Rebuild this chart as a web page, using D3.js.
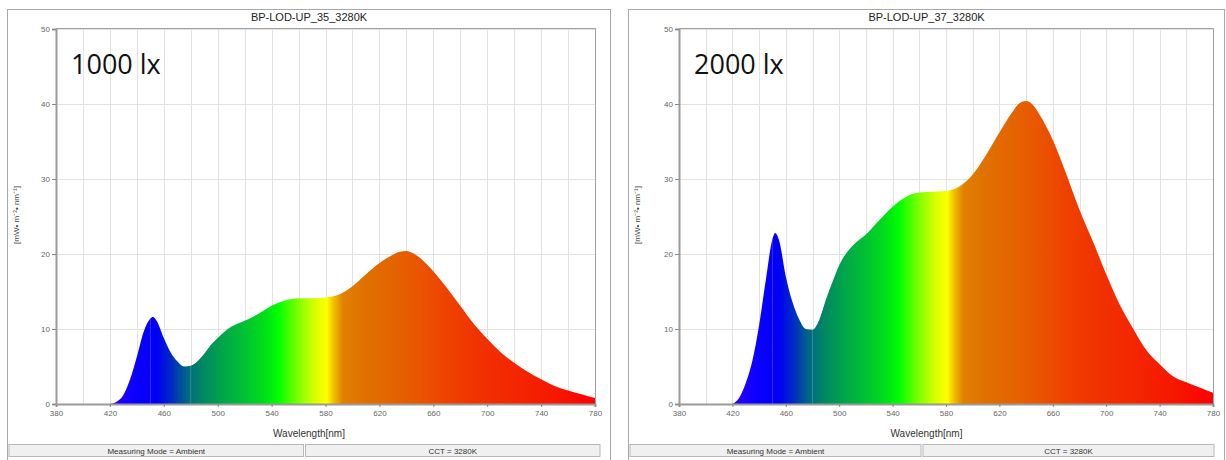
<!DOCTYPE html>
<html>
<head>
<meta charset="utf-8">
<script src="https://cdn.jsdelivr.net/npm/d3@7"></script>
<style>
  body { margin: 0; background: #fff; }
  svg { display: block; font-family: "Liberation Sans", Arial, sans-serif; }
</style>
</head>
<body>
<div id="viz"></div>
<script>
// wavelengths [nm] shared by both measurements
var wavelengths = [420,425,430,435,440,445,450,452,455,460,465,470,475,480,485,490,495,500,
                   510,520,530,540,550,560,570,580,590,600,610,620,630,635,640,645,650,660,670,680,
                   690,700,710,720,730,740,750,760,770,780];
// spectral irradiance [mW m-2 nm-1]
var lux1000 = [0,0.3,1.2,3.3,6.3,9.6,11.4,11.6,11.0,8.8,6.9,5.7,5.0,5.1,5.7,6.7,7.9,8.8,
               10.3,11.1,12.0,13.1,13.8,14.1,14.1,14.2,14.6,15.7,17.3,18.8,19.9,20.3,20.4,20.1,19.5,17.7,15.5,13.1,
               10.7,8.7,6.9,5.5,4.3,3.3,2.4,1.8,1.3,0.8];
var lux2000 = [0,0.8,2.8,5.8,10.5,16.5,22.0,22.8,21.8,17.0,13.6,11.3,10.0,9.9,11.2,13.9,16.3,18.5,
               21.1,22.6,24.5,26.3,27.6,28.2,28.3,28.4,29.0,30.6,33.2,36.2,39.0,40.1,40.4,39.9,38.6,35.2,30.7,25.9,
               21.7,17.3,13.3,10.1,7.2,5.3,3.7,2.9,2.2,1.5];

var titles = ['BP-LOD-UP_35_3280K', 'BP-LOD-UP_37_3280K'];
var luxLabels = ['1000 lx', '2000 lx'];
var statusLeft = 'Measuring Mode = Ambient';
var statusRight = 'CCT = 3280K';
var xTickValues = [380,420,460,500,540,580,620,660,700,740,780];
var xGridValues = [400,420,440,460,480,500,520,540,560,580,600,620,640,660,680,700,720,740,760];
var yTickValues = [0,10,20,30,40,50];

// colour along the wavelength axis
var spectrumStops = [
  [420,'#2a00ff'],[440,'#0a00ff'],[455,'#0000f4'],[465,'#0028c8'],[478,'#006a80'],
  [490,'#008a60'],[505,'#00a848'],[520,'#00c232'],[535,'#00e018'],[545,'#00ff00'],
  [560,'#80ff00'],[572,'#d8ff00'],[581,'#ffff00'],[586,'#f0c000'],[593,'#e08000'],
  [610,'#e07000'],[630,'#e46400'],[650,'#ea5400'],[670,'#ee4200'],[690,'#f03400'],
  [720,'#f42600'],[750,'#f61800'],[780,'#ff0000']
];

var svg = d3.select('#viz').append('svg')
            .attr('width', 1226)
            .attr('height', 460);

var panels = [
  { fx: 7.5,   fw: 603, px0: 56,  px1: 595,  data: lux1000, title: titles[0], lux: luxLabels[0], id: 'a' },
  { fx: 628.5, fw: 596, px0: 679, px1: 1213, data: lux2000, title: titles[1], lux: luxLabels[1], id: 'b' }
];

panels.forEach(function(p) {
  var g = svg.append('g');
  var x = d3.scaleLinear().domain([380,780]).range([p.px0, p.px1]);
  var y = d3.scaleLinear().domain([0,50]).range([404, 29]);
  var cx = p.fx + p.fw / 2;

  // outer frame
  g.append('rect')
   .attr('x', p.fx).attr('y', 9.5).attr('width', p.fw).attr('height', 452)
   .attr('fill', '#fff').attr('stroke', '#a8a8a8');

  g.append('text')
   .attr('x', cx).attr('y', 21)
   .attr('text-anchor', 'middle')
   .style('font-size', '11px').style('fill', '#222')
   .text(p.title);

  // grid
  g.selectAll('.vgrid').data(xGridValues).join('line')
   .attr('x1', d => Math.round(x(d)) + 0.5).attr('x2', d => Math.round(x(d)) + 0.5)
   .attr('y1', y(50)).attr('y2', y(0))
   .attr('stroke', '#e2e2e2');
  g.selectAll('.hgrid').data(yTickValues.slice(1)).join('line')
   .attr('x1', x(380)).attr('x2', x(780))
   .attr('y1', d => Math.round(y(d)) + 0.5).attr('y2', d => Math.round(y(d)) + 0.5)
   .attr('stroke', '#e2e2e2');

  // spectrum gradient
  var grad = svg.append('defs').append('linearGradient')
                .attr('id', 'spec' + p.id)
                .attr('gradientUnits', 'userSpaceOnUse')
                .attr('x1', x(380)).attr('x2', x(780))
                .attr('y1', 0).attr('y2', 0);
  grad.selectAll('stop').data(spectrumStops).join('stop')
      .attr('offset', d => (d[0] - 380) / 400)
      .attr('stop-color', d => d[1]);

  var area = d3.area()
               .x((d, i) => x(wavelengths[i]))
               .y0(y(0))
               .y1(d => y(d))
               .curve(d3.curveMonotoneX);

  g.append('clipPath').attr('id', 'clip' + p.id)
   .append('path').datum(p.data).attr('d', area);

  g.append('path')
   .datum(p.data)
   .attr('d', area)
   .attr('fill', 'url(#spec' + p.id + ')');

  // faint lines seen through the fill
  g.selectAll('.sheen').data([450, 480]).join('line')
   .attr('x1', d => x(d)).attr('x2', d => x(d))
   .attr('y1', y(50)).attr('y2', y(0))
   .attr('stroke', '#fff').attr('stroke-opacity', 0.18)
   .attr('clip-path', 'url(#clip' + p.id + ')');

  // plot frame top/right
  g.append('path')
   .attr('d', 'M' + x(380) + ',' + (y(50) - 0.5) + 'H' + (x(780) + 0.5) + 'V' + y(0))
   .attr('fill', 'none').attr('stroke', '#a0a0a0');

  var xAxis = g.append('g')
               .attr('transform', 'translate(0,' + y(0) + ')')
               .call(d3.axisBottom(x).tickValues(xTickValues).tickSize(3).tickPadding(3));
  var yAxis = g.append('g')
               .attr('transform', 'translate(' + x(380) + ',0)')
               .call(d3.axisLeft(y).tickValues(yTickValues).tickSize(4).tickPadding(2));
  [xAxis, yAxis].forEach(function(a) {
    a.select('.domain').attr('stroke', '#9a9a9a').attr('stroke-width', 2);
    a.selectAll('.tick line').attr('stroke', '#888');
    a.selectAll('.tick text').style('font-size', '8px').style('fill', '#666')
     .style('font-family', '"Liberation Sans", Arial, sans-serif');
  });

  g.append('text')
   .attr('x', cx).attr('y', 437)
   .attr('text-anchor', 'middle')
   .style('font-size', '10px').style('fill', '#333')
   .text('Wavelength[nm]');

  g.append('text')
   .attr('transform', 'translate(' + (p.fx + 11) + ',215) rotate(-90)')
   .attr('text-anchor', 'middle')
   .style('font-size', '8px').style('fill', '#444')
   .text('[mW\u2022 m\u207B\u00B2\u2022 nm\u207B\u00B9]');

  g.append('text')
   .attr('x', x(380) + 15).attr('y', 74)
   .style('font-family', '"Open Sans", "Noto Sans", sans-serif')
   .style('font-size', '27px').style('fill', '#111')
   .text(p.lux);

  // status bar
  var sw = (p.fw - 14) / 2;
  [statusLeft, statusRight].forEach(function(t, i) {
    var sx = p.fx + 1.5 + i * (sw + 2);
    g.append('rect')
     .attr('x', sx).attr('y', 444.5).attr('width', sw).attr('height', 12)
     .attr('fill', '#f0f0f0').attr('stroke', '#b8b8b8');
    g.append('text')
     .attr('x', sx + sw / 2).attr('y', 453.5)
     .attr('text-anchor', 'middle')
     .style('font-size', '8px').style('fill', '#333')
     .text(t);
  });
});
</script>
</body>
</html>
